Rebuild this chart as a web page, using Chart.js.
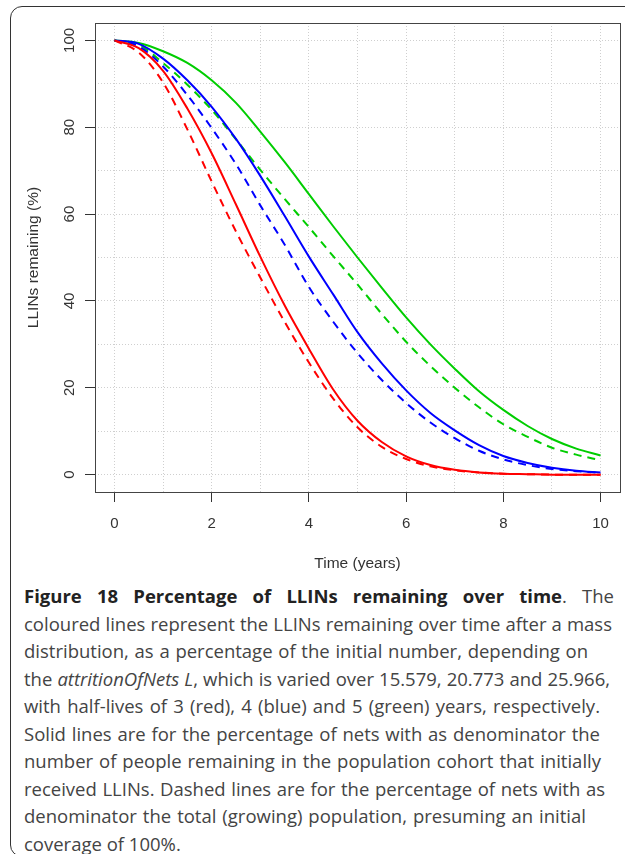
<!DOCTYPE html>
<html>
<head>
<meta charset="utf-8">
<script src="https://cdn.jsdelivr.net/npm/chart.js@4"></script>
<style>
  html, body { margin: 0; padding: 0; background: #fff; overflow: hidden; }
  body { width: 625px; height: 854px; position: relative; }
  #frame { position: absolute; left: 10px; top: 6px; width: 700px; height: 849px;
           border: 1.5px solid #333; border-radius: 12px; }
  #wrap { position: absolute; left: 0; top: 0; width: 625px; height: 580px; }
  #caption { position: absolute; left: 24px; top: 582px; font-family: 'Open Sans', sans-serif;
             font-size: 18.5px; line-height: 27.5px; color: #444; }
  #caption div { white-space: nowrap; text-align: justify; text-align-last: justify; }
  #caption div.last { text-align-last: left; }
  #caption b { color: #222; }
</style>
</head>
<body>
<div id="frame"></div>
<div id="wrap"><canvas id="chart" width="625" height="580"></canvas></div>
<div id="caption">
  <div style="width:590px"><b>Figure 18 Percentage of LLINs remaining over time</b>. The</div>
  <div style="width:588px">coloured lines represent the LLINs remaining over time after a mass</div>
  <div style="width:564px">distribution, as a percentage of the initial number, depending on</div>
  <div style="width:586px">the <i>attritionOfNets L</i>, which is varied over 15.579, 20.773 and 25.966,</div>
  <div style="width:576px">with half-lives of 3 (red), 4 (blue) and 5 (green) years, respectively.</div>
  <div style="width:576px">Solid lines are for the percentage of nets with as denominator the</div>
  <div style="width:577px">number of people remaining in the population cohort that initially</div>
  <div style="width:581px">received LLINs. Dashed lines are for the percentage of nets with as</div>
  <div style="width:562px">denominator the total (growing) population, presuming an initial</div>
  <div class="last">coverage of 100%.</div>
</div>
<script>
// time in years, values in % of LLINs remaining
const years = [0, 0.5, 1, 1.5, 2, 2.5, 3, 3.5, 4, 4.5, 5, 5.5, 6, 6.5, 7, 7.5, 8, 8.5, 9, 9.5, 10];

const redSolid    = [100, 98.2, 93.0, 84.3, 74.0, 62.2, 50.2, 39.0, 29.0, 19.6, 12.4, 7.5, 4.2, 2.2, 1.1, 0.5, 0.2, 0.1, 0, 0, 0];
const redDashed   = [100, 97.2, 90.3, 79.5, 67.5, 56.0, 45.4, 35.2, 25.8, 17.5, 10.9, 6.4, 3.6, 1.9, 1.0, 0.5, 0.2, 0.1, 0, 0, 0];
const blueSolid   = [100, 99.2, 95.8, 90.8, 84.7, 77.3, 68.8, 59.6, 50.2, 41.5, 32.8, 25.6, 19.4, 14.2, 10.2, 6.8, 4.3, 2.7, 1.6, 0.9, 0.5];
const blueDashed  = [100, 98.6, 94.0, 87.4, 79.8, 71.5, 62.0, 53.0, 43.2, 35.2, 28.0, 21.8, 16.5, 12.0, 8.4, 5.5, 3.5, 2.2, 1.3, 0.8, 0.4];
const greenSolid  = [100, 99.4, 97.5, 94.8, 90.8, 85.6, 79.0, 72.0, 64.6, 57.2, 50.0, 43.0, 36.2, 30.0, 24.4, 19.2, 14.9, 11.2, 8.2, 6.0, 4.4];
const greenDashed = [100, 99.0, 94.8, 89.8, 84.0, 77.2, 70.2, 63.5, 57.0, 50.3, 43.8, 37.0, 30.6, 25.0, 20.0, 15.5, 11.6, 8.7, 6.2, 4.6, 3.3];

const xGridValues = [0, 1, 2, 3, 4, 5, 6, 7, 8, 9, 10];
const xTickLabels = ['0', '2', '4', '6', '8', '10'];
const yGridValues = [0, 10, 20, 30, 40, 50, 60, 70, 80, 90, 100];
const yTickLabels = ['0', '20', '40', '60', '80', '100'];

const tickFont = { family: "'Liberation Sans', Arial, sans-serif", size: 15 };
const titleFont = { family: "'Liberation Sans', Arial, sans-serif", size: 15.5 };
const inkColor = '#333';
const clear = 'rgba(0,0,0,0)';

function series(values, color, dashed) {
  return {
    data: years.map((t, i) => ({ x: t, y: values[i] })),
    borderColor: color,
    borderWidth: 2,
    borderDash: dashed ? [8, 6] : [],
    pointRadius: 0,
    fill: false,
    cubicInterpolationMode: 'monotone'
  };
}

const plotBox = {
  id: 'plotBox',
  afterDraw(chart) {
    const { ctx, chartArea: a } = chart;
    ctx.save();
    ctx.strokeStyle = '#444';
    ctx.lineWidth = 1;
    ctx.strokeRect(Math.round(a.left) + 0.5, Math.round(a.top) + 0.5,
                   Math.round(a.right - a.left), Math.round(a.bottom - a.top));
    ctx.restore();
  }
};

new Chart(document.getElementById('chart'), {
  type: 'line',
  data: {
    datasets: [
      series(redSolid, '#ff0000', false),
      series(blueSolid, '#0000ff', false),
      series(greenSolid, '#00cd00', false),
      series(redDashed, '#ff0000', true),
      series(blueDashed, '#0000ff', true),
      series(greenDashed, '#00cd00', true)
    ]
  },
  options: {
    responsive: false,
    animation: false,
    layout: { padding: { top: 23, right: 5, bottom: 0, left: 0 } },
    plugins: { legend: { display: false }, tooltip: { enabled: false } },
    scales: {
      x: {
        type: 'linear', min: -0.4, max: 10.4,
        afterBuildTicks: s => { s.ticks = xGridValues.map(v => ({ value: v })); },
        afterFit: s => { s.height = 88; },
        border: { display: false, dash: [1, 2] },
        grid: {
          color: '#cfcfcf', lineWidth: 1, tickLength: 10, tickWidth: 1, tickBorderDash: [],
          tickColor: c => xTickLabels.includes(String(c.tick && c.tick.value)) ? inkColor : clear
        },
        ticks: {
          autoSkip: false, maxRotation: 0, padding: 13, font: tickFont, color: inkColor,
          callback: v => xTickLabels.includes(String(v)) ? String(v) : ''
        },
        title: { display: true, text: 'Time (years)', font: titleFont, color: inkColor,
                 padding: { top: 0, bottom: 7 } }
      },
      y: {
        type: 'linear', min: -4, max: 104,
        afterBuildTicks: s => { s.ticks = yGridValues.map(v => ({ value: v })); },
        afterFit: s => { s.width = 95; },
        border: { display: false, dash: [1, 2] },
        grid: {
          color: '#cfcfcf', lineWidth: 1, tickLength: 10, tickWidth: 1, tickBorderDash: [],
          tickColor: c => yTickLabels.includes(String(c.tick && c.tick.value)) ? inkColor : clear
        },
        ticks: {
          autoSkip: false, minRotation: 90, maxRotation: 90, crossAlign: 'center', padding: 3,
          font: tickFont, color: inkColor,
          callback: v => yTickLabels.includes(String(v)) ? String(v) : ''
        },
        title: { display: true, text: 'LLINs remaining (%)', font: titleFont, color: inkColor,
                 padding: { top: 24, bottom: 0 } }
      }
    }
  },
  plugins: [plotBox]
});
</script>
</body>
</html>
